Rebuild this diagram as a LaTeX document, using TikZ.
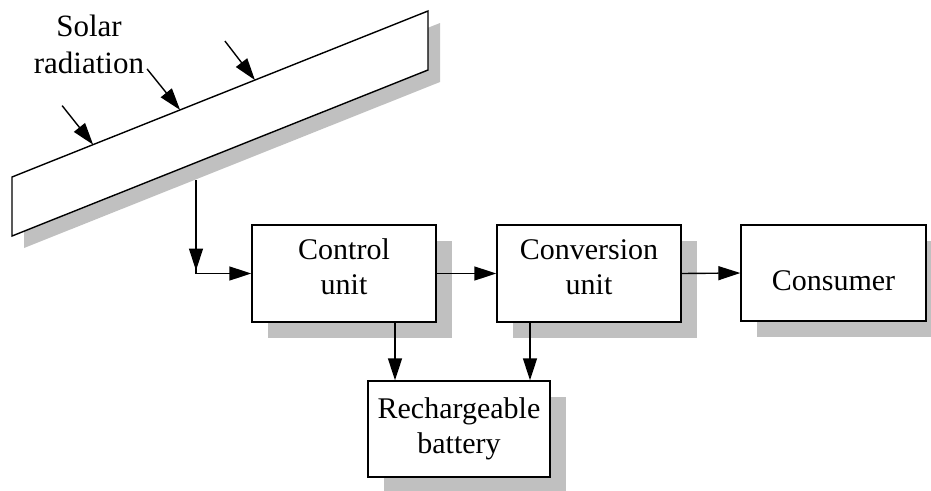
\documentclass[tikz,border=0pt]{standalone}
\usepackage{fontspec}
\setmainfont{Liberation Serif}
\usetikzlibrary{arrows.meta,calc,shadows}
\definecolor{shadowgray}{HTML}{C0C0C0}
\tikzset{
  blockbox/.style={draw=black, line width=1.4pt, fill=white, minimum width=184pt, minimum height=97pt,
    align=center, font=\fontsize{30}{35}\selectfont, inner sep=0pt,
    drop shadow={shadow xshift=16pt, shadow yshift=-16pt, fill=shadowgray, opacity=1}},
  arr/.style={line width=1.4pt, -{Triangle[length=22pt,width=14pt]}},
}
\begin{document}
\begin{tikzpicture}[x=1pt,y=-1pt]
\useasboundingbox (0,0) rectangle (931,490);
% solar panel
\coordinate (p1) at (12,177);
\coordinate (p2) at (428,11);
\coordinate (p3) at (428,70);
\coordinate (p4) at (12,236);
\fill[shadowgray] ($(p1)+(12,12)$) -- ($(p2)+(12,12)$) -- ($(p3)+(12,12)$) -- ($(p4)+(12,12)$) -- cycle;
\draw[line width=1.4pt, fill=white] (p1) -- (p2) -- (p3) -- (p4) -- cycle;
% radiation arrows
\coordinate (r1) at ($(p1)!0.195!(p2)$);
\coordinate (r2) at ($(p1)!0.404!(p2)$);
\coordinate (r3) at ($(p1)!0.584!(p2)$);
\coordinate (s1) at ($(r1)+(-31,-39)$);
\coordinate (s2) at ($(r2)+(-33,-41)$);
\coordinate (s3) at ($(r3)+(-30,-39)$);
\draw[arr] (s1) -- (r1);
\draw[arr] (s2) -- (r2);
\draw[arr] (s3) -- (r3);
\node[align=center, font=\fontsize{31}{37}\selectfont, inner sep=0pt] (solar) at (89,44) {Solar\\ radiation};
% blocks
\node[blockbox, text height=55.5pt, text depth=14pt] (control) at (344,273.5) {Control\\unit};
\node[blockbox, text height=55.5pt, text depth=14pt] (conversion) at (589,273.5) {Conversion\\unit};
\node[blockbox, minimum width=185pt, minimum height=96pt, text height=35pt, text depth=0pt] (consumer) at (833.5,273) {Consumer};
\node[blockbox, minimum width=182pt, minimum height=96pt] (battery) at (459,429) {Rechargeable\\battery};
% connectors
\coordinate (drop) at (196,180);
\coordinate (corner) at (196,273.5);
\draw[arr] (drop) -- ($(corner)+(0,-3)$);
\draw[arr] (drop) -- (corner) -- (control.west);
\draw[arr] (control.east) -- (conversion.west);
\draw[arr] (conversion.east) -- (consumer.west);
\draw[arr] ([xshift=51pt]control.south) -- ([xshift=51pt]control.south |- battery.north);
\draw[arr] ([xshift=-59pt]conversion.south) -- ([xshift=-59pt]conversion.south |- battery.north);
\end{tikzpicture}
\end{document}
